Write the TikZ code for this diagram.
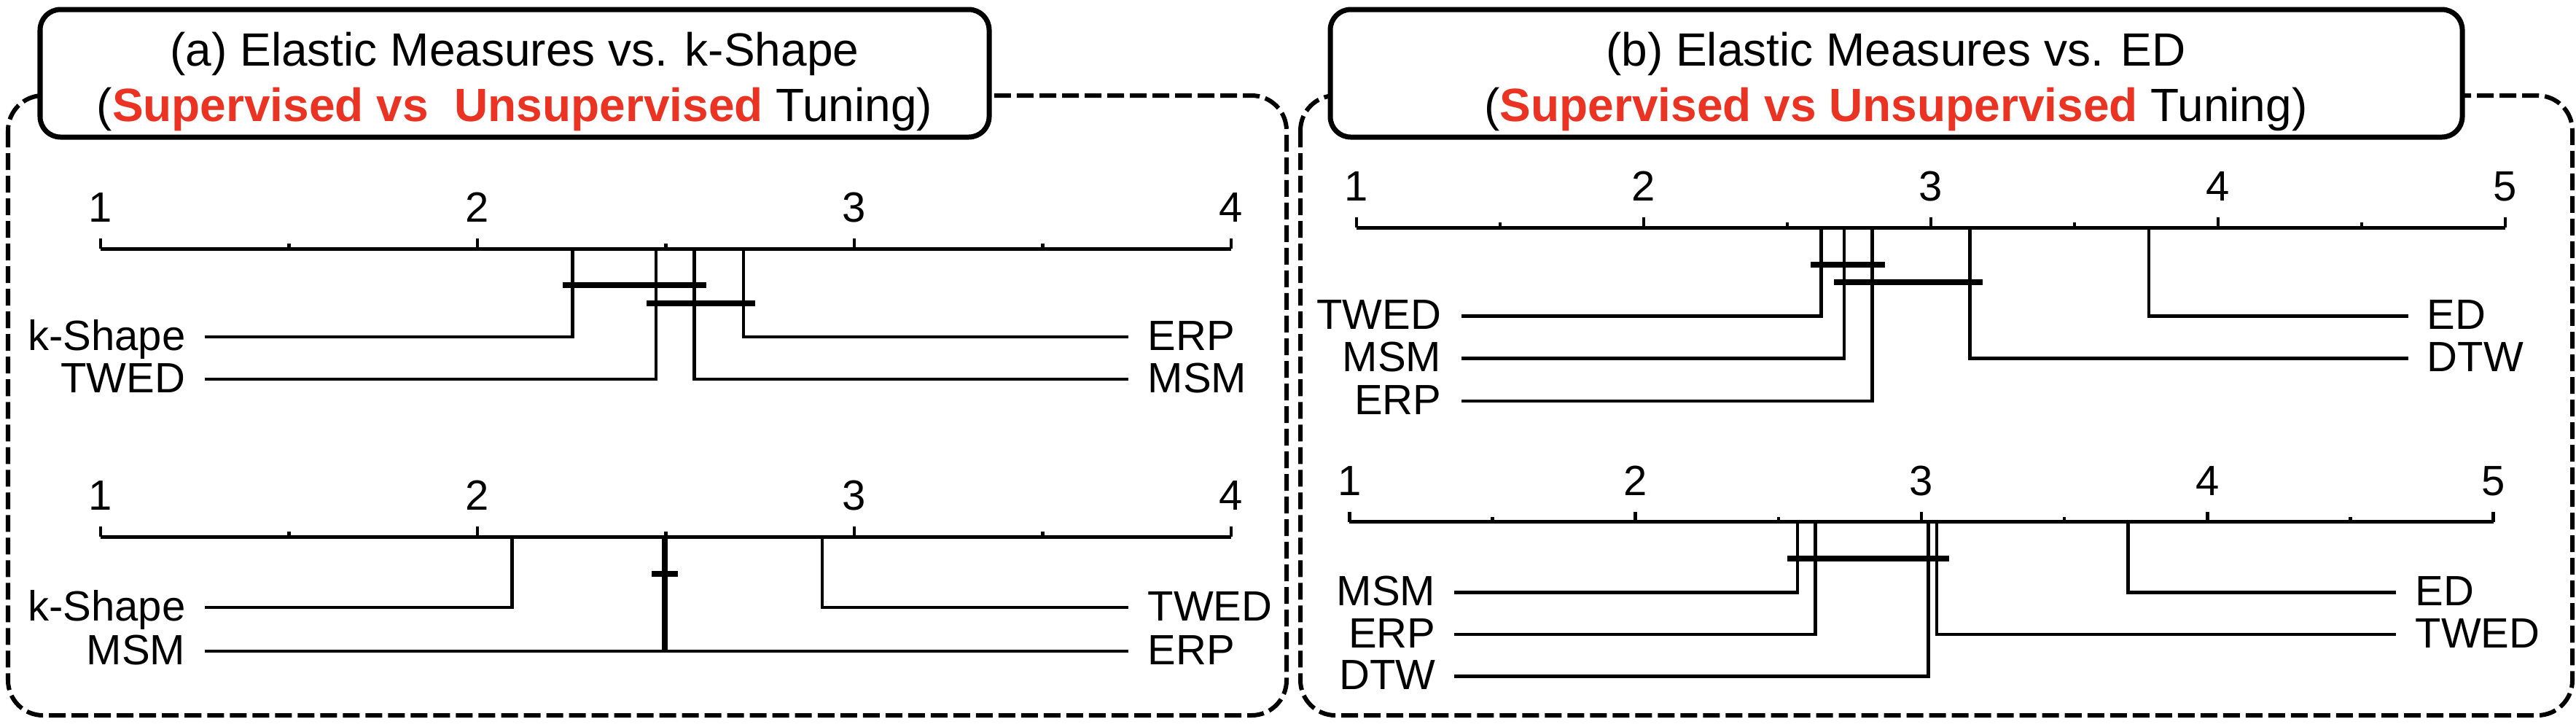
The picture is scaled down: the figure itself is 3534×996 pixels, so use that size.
\documentclass[tikz,border=0pt]{standalone}
\usepackage{fontspec}
\setmainfont{Liberation Sans}
\definecolor{tred}{RGB}{234,51,35}
\newcommand\ttlfont{\fontsize{18.2}{22}\selectfont}
\newcommand\lblfont{\fontsize{16.5}{20}\selectfont}
\begin{document}
\begin{tikzpicture}[x=0.01cm,y=-0.01cm,
 dashbox/.style={draw,line width=0.06cm,dash pattern=on 0.23cm off 0.08cm,rounded corners=0.48cm},
 titlebox/.style={draw,fill=white,line width=0.07cm,rounded corners=0.28cm},
 ttl/.style={font=\ttlfont,inner sep=0,anchor=base},
 num/.style={font=\lblfont,inner sep=0,anchor=base},
 lblL/.style={font=\lblfont,inner sep=0,anchor=base east},
 lblR/.style={font=\lblfont,inner sep=0,anchor=base west},
 axisline/.style={line width=0.05cm},
 tickline/.style={line width=0.045cm},
 rk/.style={line width=0.045cm},
 clique/.style={line width=0.08cm}]
\useasboundingbox (0,0) rectangle (3534,996);

% frames
\draw[dashbox] (11,131) rectangle (1765,981);
\draw[dashbox] (1784,131) rectangle (3529,981);
\draw[titlebox] (55,13) rectangle (1357,188);
\draw[titlebox] (1825,13) rectangle (3378,188);

% titles
\node[ttl] (ta1) at (706,90) {(a) Elastic Measures vs. k-Shape};
\node[ttl] (ta2) at (706,166) {({\color{tred}\bfseries Supervised vs\ \ Unsupervised} Tuning)};
\node[ttl] (tb1) at (2601,90) {(b) Elastic Measures vs. ED};
\node[ttl] (tb2) at (2601,166) {({\color{tred}\bfseries Supervised vs Unsupervised} Tuning)};

% ---------- panel (a) top ----------
\draw[axisline] (138,341) coordinate (aTs) -- (1689,341) coordinate (aTe);
\foreach \k in {1,2,3,4} {
  \draw[tickline] ({138+517*(\k-1)},341) -- ++(0,-14);
  \node[num] (aTn\k) at ({138+517*(\k-1)},304) {\k};
}
\foreach \k in {1.5,2.5,3.5} \draw[tickline] ({138+517*(\k-1)},341) -- ++(0,-7);
\foreach \n/\xx/\yy/\t in {ks/785.7/462/k-Shape, tw/900/520/TWED} {
  \coordinate (aT-\n) at (\xx,341);
  \coordinate (aT-\n-end) at (281,\yy);
  \node[lblL] (aT-\n-lbl) at (255,{\yy+18}) {\t};
  \draw[rk] (aT-\n) |- (aT-\n-end);
}
\foreach \n/\xx/\yy/\t in {erp/1020/462/ERP, msm/952.3/520/MSM} {
  \coordinate (aT-\n) at (\xx,341);
  \coordinate (aT-\n-end) at (1548,\yy);
  \node[lblR] (aT-\n-lbl) at (1574,{\yy+18}) {\t};
  \draw[rk] (aT-\n) |- (aT-\n-end);
}
\draw[clique] (771.7,391) -- (969,391);
\draw[clique] (886.7,415.7) -- (1035.7,415.7);

% ---------- panel (a) bottom ----------
\draw[axisline] (138,736) coordinate (aBs) -- (1689,736) coordinate (aBe);
\foreach \k in {1,2,3,4} {
  \draw[tickline] ({138+517*(\k-1)},736) -- ++(0,-14);
  \node[num] (aBn\k) at ({138+517*(\k-1)},699) {\k};
}
\foreach \k in {1.5,2.5,3.5} \draw[tickline] ({138+517*(\k-1)},736) -- ++(0,-7);
\foreach \n/\xx/\yy/\t in {ks/702.6/833/k-Shape, msm/910/893/MSM} {
  \coordinate (aB-\n) at (\xx,736);
  \coordinate (aB-\n-end) at (281,\yy);
  \node[lblL] (aB-\n-lbl) at (255,{\yy+18}) {\t};
  \draw[rk] (aB-\n) |- (aB-\n-end);
}
\foreach \n/\xx/\yy/\t in {tw/1128/833/TWED, erp/914/893/ERP} {
  \coordinate (aB-\n) at (\xx,736);
  \coordinate (aB-\n-end) at (1548,\yy);
  \node[lblR] (aB-\n-lbl) at (1574,{\yy+18}) {\t};
  \draw[rk] (aB-\n) |- (aB-\n-end);
}
\draw[clique] (894,787) -- (930,787);

% ---------- panel (b) top ----------
\draw[axisline] (1861,312) coordinate (bTs) -- (3437,312) coordinate (bTe);
\foreach \k in {1,2,3,4,5} {
  \draw[tickline] ({1861+394*(\k-1)},312) -- ++(0,-14);
  \node[num] (bTn\k) at ({1861+394*(\k-1)},275) {\k};
}
\foreach \k in {1.5,2.5,3.5,4.5} \draw[tickline] ({1861+394*(\k-1)},312) -- ++(0,-7);
\foreach \n/\xx/\yy/\t in {tw/2498.4/433.3/TWED, msm/2530/491.7/MSM, erp/2568.4/550/ERP} {
  \coordinate (bT-\n) at (\xx,312);
  \coordinate (bT-\n-end) at (2005,\yy);
  \node[lblL] (bT-\n-lbl) at (1978,{\yy+18}) {\t};
  \draw[rk] (bT-\n) |- (bT-\n-end);
}
\foreach \n/\xx/\yy/\t in {ed/2948/433.3/ED, dtw/2702.3/491.7/DTW} {
  \coordinate (bT-\n) at (\xx,312);
  \coordinate (bT-\n-end) at (3304,\yy);
  \node[lblR] (bT-\n-lbl) at (3329,{\yy+18}) {\t};
  \draw[rk] (bT-\n) |- (bT-\n-end);
}
\draw[clique] (2484,362.7) -- (2586.4,362.7);
\draw[clique] (2516,386.7) -- (2719.6,386.7);

% ---------- panel (b) bottom ----------
\draw[axisline] (1851.4,715.7) coordinate (bBs) -- (3420.6,715.7) coordinate (bBe);
\foreach \k in {1,2,3,4,5} {
  \draw[tickline] ({1851.4+392.3*(\k-1)},715.7) -- ++(0,-14);
  \node[num] (bBn\k) at ({1851.4+392.3*(\k-1)},679) {\k};
}
\foreach \k in {1.5,2.5,3.5,4.5} \draw[tickline] ({1851.4+392.3*(\k-1)},715.7) -- ++(0,-7);
\foreach \n/\xx/\yy/\t in {msm/2466.2/812.3/MSM, erp/2490.7/870/ERP, dtw/2645.3/927.3/DTW} {
  \coordinate (bB-\n) at (\xx,715.7);
  \coordinate (bB-\n-end) at (1995,\yy);
  \node[lblL] (bB-\n-lbl) at (1970,{\yy+18}) {\t};
  \draw[rk] (bB-\n) |- (bB-\n-end);
}
\foreach \n/\xx/\yy/\t in {ed/2919.3/812.3/ED, tw/2657.2/870/TWED} {
  \coordinate (bB-\n) at (\xx,715.7);
  \coordinate (bB-\n-end) at (3287,\yy);
  \node[lblR] (bB-\n-lbl) at (3313,{\yy+18}) {\t};
  \draw[rk] (bB-\n) |- (bB-\n-end);
}
\draw[clique] (2452.4,765.7) -- (2674.4,765.7);
\end{tikzpicture}
\end{document}
